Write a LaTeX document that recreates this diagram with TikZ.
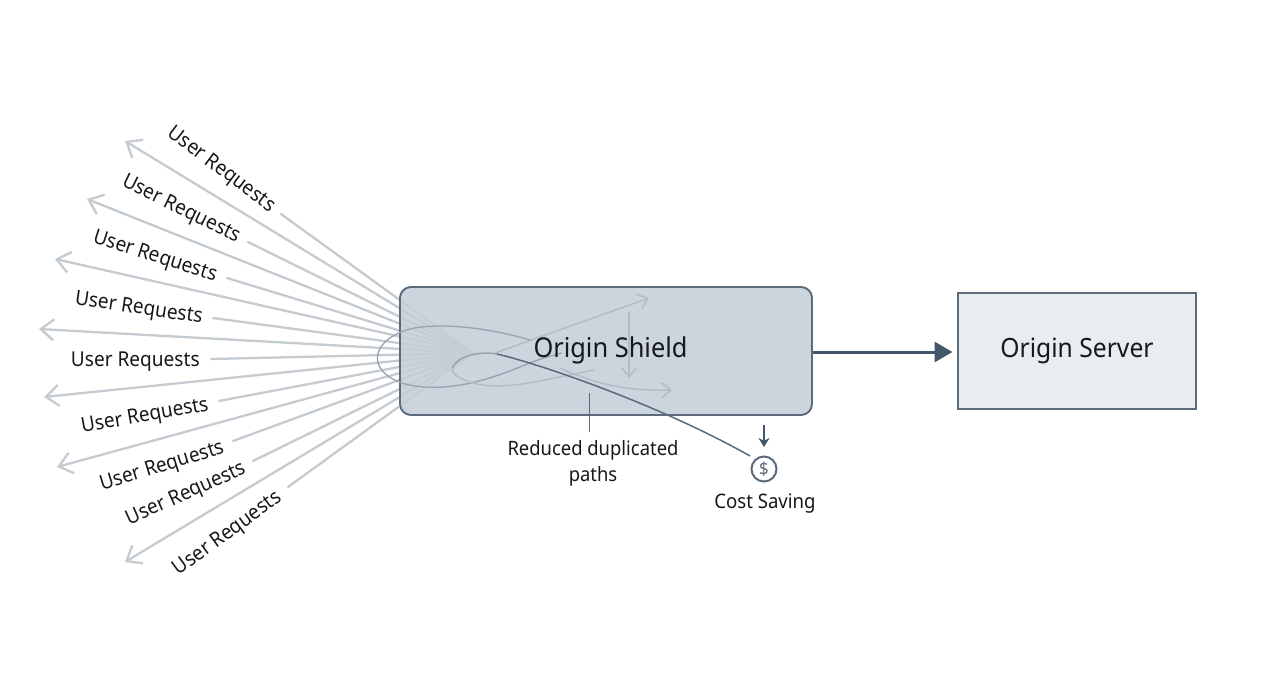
\documentclass[tikz,border=0pt]{standalone}
\usepackage{fontspec}
\setmainfont[FakeStretch=0.93]{Noto Sans}
\usetikzlibrary{arrows.meta}
\definecolor{ray}{HTML}{C4CBD1}
\definecolor{edgec}{HTML}{5B6B7B}
\definecolor{navy}{HTML}{44566A}
\definecolor{shieldfill}{HTML}{CCD4DD}
\definecolor{serverfill}{HTML}{E8EDF2}
\definecolor{inner}{HTML}{B4BDC6}
\definecolor{loop}{HTML}{98A3AE}
\definecolor{ink}{HTML}{15191E}
\tikzset{
  rayarrow/.style={draw=ray,line width=2.3pt,line cap=round,-{Straight Barb[length=13pt,width=21pt,line width=2.3pt]}},
  rayline/.style={draw=ray,line width=2.3pt,line cap=round},
  userlabel/.style={font=\fontsize{20.5}{24}\selectfont,text=ink,inner sep=0pt},
  smalllabel/.style={font=\fontsize{19.8}{26}\selectfont,text=ink,inner sep=0pt,align=center},
  boxlabel/.style={font=\fontsize{27.3}{32}\selectfont,text=ink,inner sep=0pt},
  innerarrow/.style={draw=inner,line width=1.6pt,-{Straight Barb[length=9pt,width=15pt,line width=1.6pt]}},
}
\begin{document}
\begin{tikzpicture}[x=1pt,y=-1pt]
\useasboundingbox (0,0) rectangle (1280,698);
\fill[white] (0,0) rectangle (1280,698);
% boxes
\node[draw=edgec,line width=1.6pt,fill=shieldfill,rounded corners=11pt,minimum width=412pt,minimum height=128pt,inner sep=0pt] (shield) at (606,351) {};
\node[draw=edgec,line width=1.2pt,fill=serverfill,minimum width=238pt,minimum height=116pt,inner sep=0pt] (server) at (1077,351) {};
\coordinate (hub) at (473,353);
% rays with arrows
\foreach \n/\x/\y in {a/125/141,b/87/199,c/55/259,d/39/329,e/44/397,f/57/467,g/125/562}{
  \coordinate (tip\n) at (\x,\y);
  \draw[rayarrow] (hub) -- (tip\n);
}
% rays ending at labels
\foreach \n/\x/\y in {h/281/214,i/248/242,j/227/278,k/213/318,l/211/359,m/219/401,n/233/441,o/253/461,p/288/487}{
  \coordinate (end\n) at (\x,\y);
  \draw[rayline] (hub) -- (end\n);
}
% veil so that the rays fade inside the box
\fill[shieldfill,opacity=.35,rounded corners=11pt] (401,288) rectangle (811,414);
\draw[edgec,line width=1.6pt,rounded corners=11pt] (400,287) rectangle (812,415);
% loops
\coordinate (loopstart) at (530,340);
\coordinate (looptip) at (649,298);
\coordinate (tiptail) at (495,353);
\draw[innerarrow] (tiptail) -- (looptip);
\draw[draw=loop,line width=1.3pt] (loopstart) .. controls (490,328) and (440,322) .. (410,329) .. controls (370,340) and (365,372) .. (405,384) .. controls (445,394) and (490,380) .. (527,364) .. controls (540,359) and (550,356) .. (562,353);
\draw[draw=inner,line width=1.5pt] (594,370) .. controls (550,378) and (505,392) .. (473,383) .. controls (455,377) and (450,372) .. (453,367);
\coordinate (bend) at (497,354);
\coordinate (costend) at (750,456);
\draw[draw=loop,line width=1.5pt] (452,368) .. controls (458,356) and (478,351) .. (bend);
\draw[draw=edgec,line width=1.5pt] (bend) .. controls (540,364) and (660,405) .. (costend);
\coordinate (lowstart) at (560,368);
\coordinate (lowtip) at (672,390);
\draw[innerarrow] (lowstart) .. controls (600,386) and (630,391) .. (lowtip);
\coordinate (dropstart) at (629,312);
\coordinate (droptip) at (629,378);
\draw[innerarrow] (dropstart) -- (droptip);
% texts
\node[boxlabel] (shieldtext) at (610.5,350.5) {Origin Shield};
\node[boxlabel,font=\fontsize{26.5}{32}\selectfont] (servertext) at (1077,351) {Origin Server};
\node[userlabel,rotate=-37] (u1) at (221,170) {User Requests};
\node[userlabel,rotate=-26] (u2) at (181,209.5) {User Requests};
\node[userlabel,rotate=-17.5] (u3) at (155,257) {User Requests};
\node[userlabel,rotate=-8.5] (u4) at (138.7,309) {User Requests};
\node[userlabel] (u5) at (135.3,362) {User Requests};
\node[userlabel,rotate=10] (u6) at (145,417) {User Requests};
\node[userlabel,rotate=17] (u7) at (162.5,467) {User Requests};
\node[userlabel,rotate=24] (u8) at (186.5,494.5) {User Requests};
\node[userlabel,rotate=36] (u9) at (228,534) {User Requests};
\coordinate (ticktop) at (589,393);
\coordinate (tickbot) at (589,432);
\draw[draw=edgec,line width=1pt] (ticktop) -- (tickbot);
\node[smalllabel] (reduced) at (593,463) {Reduced duplicated\\paths};
\coordinate (smalltop) at (764,425);
\coordinate (smallbot) at (764,447);
\draw[draw=navy,line width=1.8pt,-{Stealth[length=9pt,width=11pt]}] (smalltop) -- (smallbot);
\node[circle,draw=edgec,line width=2pt,minimum size=25pt,inner sep=0pt,font=\fontsize{18}{18}\selectfont\bfseries,text=edgec] (coin) at (764,469) {\$};
\node[smalllabel,font=\fontsize{20}{26}\selectfont] (cost) at (765,504) {Cost Saving};
% main arrow
\coordinate (mainstart) at (813,352);
\coordinate (mainend) at (952.5,352);
\draw[draw=navy,line width=3pt,-{Triangle[length=18pt,width=20pt]}] (mainstart) -- (mainend);
\end{tikzpicture}
\end{document}
